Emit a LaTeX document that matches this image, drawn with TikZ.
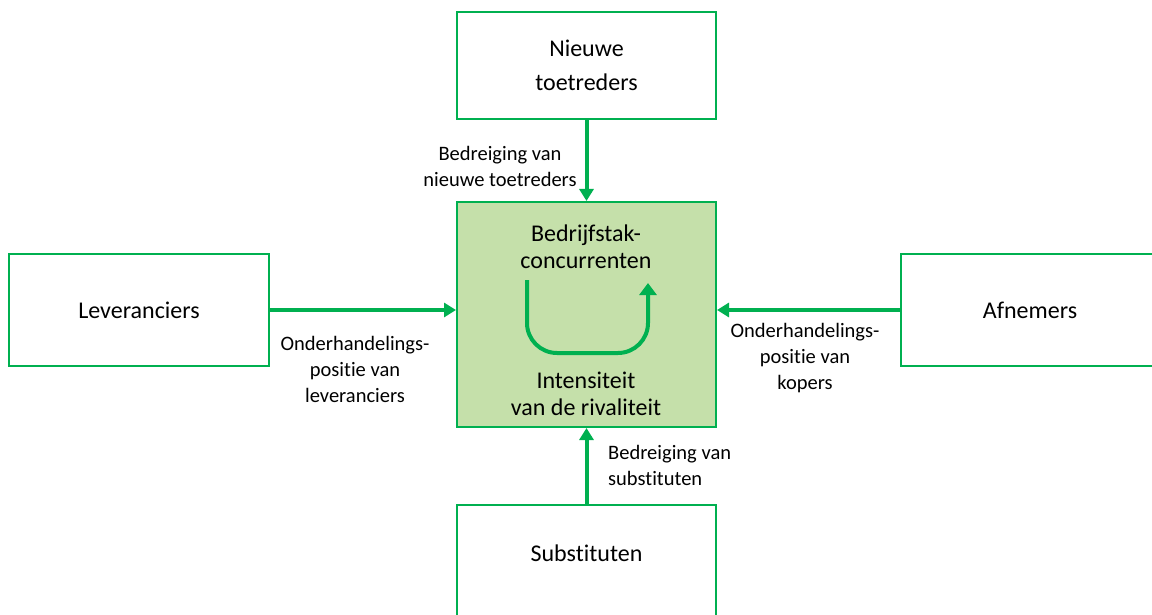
\documentclass[tikz,border=0pt]{standalone}
\usepackage{fontspec}
\setmainfont{Carlito}[Ligatures=NoCommon]
\usetikzlibrary{arrows.meta}
\definecolor{porterGreen}{RGB}{0,176,80}
\definecolor{porterFill}{RGB}{197,224,170}

\begin{document}
\begin{tikzpicture}[x=1pt, y=-1pt,
  force/.style={draw=porterGreen, line width=2pt, minimum width=259pt, minimum height=107pt, inner sep=0pt, font=\fontsize{24}{34}\selectfont, align=center},
  pressure/.style={draw=porterGreen, line width=4pt, -{Triangle[length=12pt,width=14pt]}},
  arrowtext/.style={font=\fontsize{20.5}{26}\selectfont, align=center, inner sep=0pt},
  boxtext/.style={font=\fontsize{24}{27}\selectfont, align=center, inner sep=0pt}]
\useasboundingbox (0, 0) rectangle (1152, 615);
% the five forces
\node [force, fill=porterFill, minimum height=225pt] (rival) at (586.5, 314.5) {};
\node [force] (new) at (586.5, 65.5) {Nieuwe\\toetreders};
\node [force, minimum width=260pt, minimum height=112pt] (sup) at (139, 310) {Leveranciers};
\node [force, minimum width=258pt, minimum height=112pt] (buy) at (1030, 310) {};
\node at (1030, 310) [font=\fontsize{24}{34}\selectfont] (buytext) {Afnemers};
\node [force, minimum height=120pt] (subst) at (586.5, 565) {};
\node at (586.5, 553) [font=\fontsize{24}{34}\selectfont] (substtext) {Substituten};
% texts in the middle box
\node [boxtext] (rivaltop) at (586, 247) {Bedrijfstak-\\concurrenten};
\node [boxtext] (rivalbot) at (586, 394) {Intensiteit\\van de rivaliteit};
\coordinate (loopstart) at (527, 280);
\coordinate (loopend) at (648, 283);
\draw [pressure, -{Triangle[length=12pt,width=17pt]}, rounded corners=30pt] (loopstart) -- (527, 353) -- (648, 353) -- (loopend);
% arrows
\draw [pressure] (new) -- (rival);
\draw [pressure] (subst) -- (rival);
\draw [pressure] (sup.east) -- (sup.east -| rival.west);
\draw [pressure] (buy.west) -- (buy.west -| rival.east);
% arrow labels
\node [arrowtext] (newlab) at (500, 166) {Bedreiging van\\nieuwe toetreders};
\node [arrowtext] (suplab) at (355, 369) {Onderhandelings-\\positie van\\leveranciers};
\node [arrowtext] (buylab) at (805, 358) {Onderhandelings-\\positie van\\kopers};
\node [arrowtext, align=left, anchor=west] (substlab) at (608, 465) {Bedreiging van\\substituten};
\end{tikzpicture}
\end{document}
